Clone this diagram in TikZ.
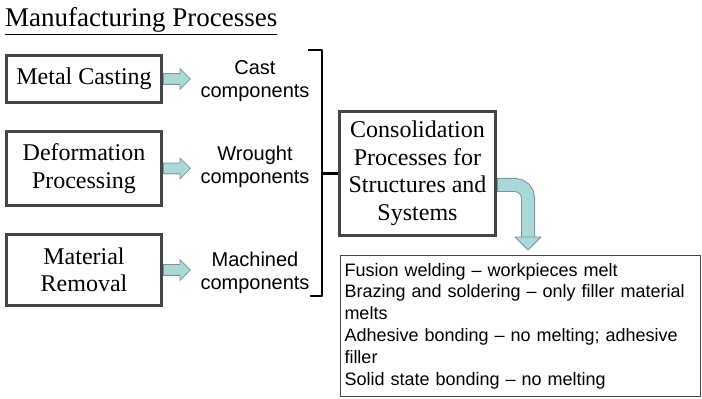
\documentclass[tikz,border=0pt]{standalone}
\usepackage{fontspec}
\setmainfont{Liberation Serif}
\setsansfont{Liberation Sans}
\usetikzlibrary{shapes.arrows,positioning}
\definecolor{arrcyan}{HTML}{A9D8D8}
\definecolor{arrline}{HTML}{7F9393}
\definecolor{boxline}{HTML}{454545}
\tikzset{
  procbox/.style={draw=boxline, line width=3pt, fill=white, align=center, inner sep=0pt,
    minimum width=155pt, font=\fontsize{24}{27.5}\selectfont},
  prodtext/.style={align=center, font=\sffamily\fontsize{20}{23}\selectfont},
  blkarr/.style={single arrow, draw=arrline, fill=arrcyan, line width=0.8pt, inner sep=5pt,
    single arrow head extend=5pt, minimum height=27pt, anchor=west},
  brace/.style={line width=2.2pt, line join=round},
}
\begin{document}
\begin{tikzpicture}[x=1pt,y=1pt]
\useasboundingbox (0,0) rectangle (702,399);
\node[anchor=base west, inner sep=0pt, font=\fontsize{27}{30}\selectfont] (title) at (5,372) {\underline{Manufacturing Processes}};
% process boxes
\node[procbox, minimum height=47pt] (cast) at (84,320) {Metal Casting};
\node[procbox, minimum height=74pt] (deform) at (84,230.5) {Deformation\\Processing};
\node[procbox, minimum height=71pt] (remove) at (84,129) {Material\\Removal};
% block arrows
\node[blkarr] (a1) at (cast.east) {};
\node[blkarr] (a2) at (deform.east) {};
\node[blkarr] (a3) at (remove.east) {};
\node[prodtext] (castc) at (255,318) {Cast\\components};
\node[prodtext] (wrought) at (255,232) {Wrought\\components};
\node[prodtext] (machined) at (255,126) {Machined\\components};
% bracket
\coordinate (brtop) at (308,349);
\coordinate (brbot) at (310,103);
\node[procbox, minimum width=156pt, minimum height=124pt] (consol) at (417.5,225.5) {Consolidation\\Processes for\\Structures and\\Systems};
\draw[brace] (brtop) -- (322,349) -- (322,103) -- (brbot);
\draw[brace] (322,225.5) -- (consol.west);
% joining processes
\node[draw=boxline, line width=1pt, anchor=north west, text width=352pt, inner xsep=4pt, inner ysep=0pt,
  minimum height=141pt, align=left, font=\sffamily\fontsize{18}{21.8}\selectfont] (join) at (340,144)
  {Fusion welding -- workpieces melt\\
   Brazing and soldering -- only filler material\\
   melts\\
   Adhesive bonding -- no melting; adhesive\\
   filler\\
   Solid state bonding -- no melting};
% bent arrow
\coordinate (bend) at (528,214);
\coordinate (tip) at (528,149);
\draw[arrline, line width=14pt, rounded corners=13pt] (consol.east |- bend) -- (bend) -- (528,162);
\draw[arrcyan, line width=12pt, rounded corners=13pt] ([xshift=1pt]consol.east |- bend) -- (bend) -- (528,161);
\draw[arrline, fill=arrcyan, line width=0.8pt, line join=round] (515,162) -- (541,162) -- (tip) -- cycle;
\end{tikzpicture}
\end{document}
